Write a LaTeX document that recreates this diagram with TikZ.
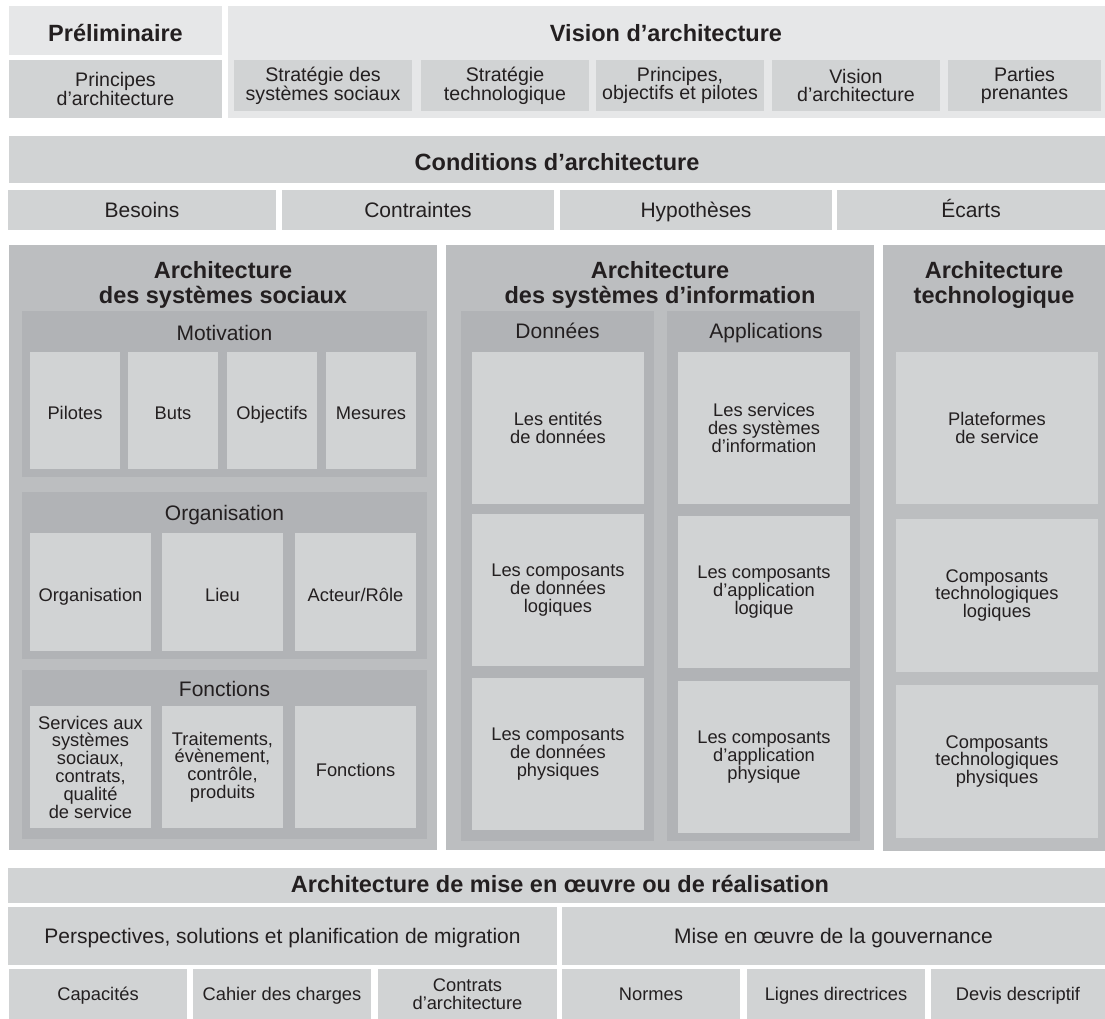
\documentclass[tikz,border=0pt]{standalone}
\usepackage{fontspec}
\setmainfont{Liberation Sans}
\definecolor{ink}{HTML}{231F20}
\definecolor{paleG}{HTML}{E6E7E8}
\definecolor{midG}{HTML}{D1D3D4}
\definecolor{colG}{HTML}{BCBEC0}
\definecolor{grpG}{HTML}{B1B3B6}
% a filled box from (x1,y1) to (x2,y2), pixel units, y pointing down
\newcommand\cellbox[7]{%
  \pgfmathsetmacro\cbw{#4-#2}%
  \pgfmathsetmacro\cbh{#5-#3}%
  \pgfmathsetmacro\cbx{(#2+#4)/2}%
  \pgfmathsetmacro\cby{(#3+#5)/2}%
  \node[cell,#6,minimum width=\cbw pt,minimum height=\cbh pt] (#1) at (\cbx,\cby) {#7};%
}
\begin{document}
\begin{tikzpicture}[x=1pt,y=-1pt,
  cell/.style={inner sep=0pt,outer sep=0pt,draw=none,text=ink,align=center},
  pale/.style={fill=paleG}, mid/.style={fill=midG}, col/.style={fill=colG}, grp/.style={fill=grpG},
  ttl/.style={inner sep=0pt,text=ink,align=center,font=\fontsize{23.5}{25}\selectfont\bfseries},
  lbl/.style={font=\fontsize{21}{22}\selectfont},
  sub/.style={font=\fontsize{19.6}{18.8}\selectfont},
  leaf/.style={font=\fontsize{18.3}{17.8}\selectfont},
  oneL/.style={text height=15pt,text depth=0pt},
  oneS/.style={text height=13.1pt,text depth=0pt},
  oneM/.style={text height=18.5pt,text depth=0pt},
  grplbl/.style={inner sep=0pt,text=ink,lbl,anchor=base}]
\useasboundingbox[fill=white] (0,0) rectangle (1105,1019);

% ---- Préliminaire ----
\cellbox{prelimHead}{9}{6}{222}{55}{pale}{}
\node[ttl,anchor=base] (prelimTitle) at (115.5,41.5) {Préliminaire};
\cellbox{prelimBody}{9}{60}{222}{118}{mid,sub}{Principes\\d’architecture}

% ---- Vision d'architecture ----
\cellbox{visionBg}{228}{6}{1105}{118}{pale}{}
\node[ttl,anchor=base] (visionTitle) at (666,41.5) {Vision d’architecture};
\cellbox{vStratSoc}{234}{60}{412}{111}{mid,sub}{Stratégie des\\systèmes sociaux}
\cellbox{vStratTech}{421}{60}{589}{111}{mid,sub}{Stratégie\\technologique}
\cellbox{vPrinc}{596}{60}{764}{111}{mid,sub}{Principes,\\objectifs et pilotes}
\cellbox{vVision}{772}{60}{940}{111}{mid,sub}{Vision\\d’architecture}
\cellbox{vParties}{948}{60}{1101}{111}{mid,sub}{Parties\\prenantes}

% ---- Conditions d'architecture ----
\cellbox{condHead}{9}{136}{1105}{183}{mid}{}
\node[ttl,anchor=base] (condTitle) at (557,171) {Conditions d’architecture};
\cellbox{cBesoins}{8}{190}{276}{230}{mid,lbl,oneL}{Besoins}
\cellbox{cContr}{282}{190}{554}{230}{mid,lbl,oneL}{Contraintes}
\cellbox{cHyp}{560}{190}{832}{230}{mid,lbl,oneL}{Hypothèses}
\cellbox{cEcarts}{837}{190}{1105}{230}{mid,lbl,oneL}{Écarts}

% ---- Architecture des systèmes sociaux ----
\cellbox{colSoc}{9}{245}{437}{850}{col}{}
\node[ttl] (socTitle) at (223,285) {Architecture\\des systèmes sociaux};

\cellbox{grpMotiv}{22}{311}{427}{477}{grp}{}
\node[grplbl] (motivLabel) at (224.5,340) {Motivation};
\cellbox{mPilotes}{30}{352}{120}{469}{mid,leaf,oneM}{Pilotes}
\cellbox{mButs}{128}{352}{218}{469}{mid,leaf,oneM}{Buts}
\cellbox{mObj}{227}{352}{317}{469}{mid,leaf,oneM}{Objectifs}
\cellbox{mMes}{326}{352}{416}{469}{mid,leaf,oneM}{Mesures}

\cellbox{grpOrg}{22}{492}{427}{659}{grp}{}
\node[grplbl] (orgLabel) at (224.5,520) {Organisation};
\cellbox{oOrg}{30}{533}{151}{651}{mid,leaf,oneM}{Organisation}
\cellbox{oLieu}{162}{533}{283}{651}{mid,leaf,oneM}{Lieu}
\cellbox{oActeur}{295}{533}{416}{651}{mid,leaf,oneM}{Acteur/Rôle}

\cellbox{grpFonc}{22}{670}{427}{839}{grp}{}
\node[grplbl] (foncLabel) at (224.5,696) {Fonctions};
\cellbox{fServ}{30}{706}{151}{828}{mid,leaf}{Services aux\\systèmes\\sociaux,\\contrats,\\qualité\\de service}
\cellbox{fTrait}{162}{706}{283}{828}{mid,leaf}{Traitements,\\évènement,\\contrôle,\\produits}
\cellbox{fFonc}{295}{706}{416}{828}{mid,leaf,oneM}{Fonctions}

% ---- Architecture des systèmes d'information ----
\cellbox{colSI}{446}{245}{874}{850}{col}{}
\node[ttl] (siTitle) at (660,285) {Architecture\\des systèmes d’information};

\cellbox{grpData}{461}{311}{654}{841}{grp}{}
\node[grplbl] (dataLabel) at (557.5,338) {Données};
\cellbox{dEnt}{472}{352}{644}{504}{mid,leaf}{Les entités\\de données}
\cellbox{dLog}{472}{514}{644}{666}{mid,leaf}{Les composants\\de données\\logiques}
\cellbox{dPhy}{472}{678}{644}{830}{mid,leaf}{Les composants\\de données\\physiques}

\cellbox{grpApp}{667}{311}{860}{841}{grp}{}
\node[grplbl] (appLabel) at (766,338) {Applications};
\cellbox{aServ}{678}{352}{850}{504}{mid,leaf}{Les services\\des systèmes\\d’information}
\cellbox{aLog}{678}{516}{850}{668}{mid,leaf}{Les composants\\d’application\\logique}
\cellbox{aPhy}{678}{681}{850}{833}{mid,leaf}{Les composants\\d’application\\physique}

% ---- Architecture technologique ----
\cellbox{colTech}{883}{245}{1105}{851}{col}{}
\node[ttl] (techTitle) at (994,285) {Architecture\\technologique};
\cellbox{tPlat}{896}{352}{1098}{504}{mid,leaf}{Plateformes\\de service}
\cellbox{tLog}{896}{519}{1098}{672}{mid,leaf}{Composants\\technologiques\\logiques}
\cellbox{tPhy}{896}{685}{1098}{838}{mid,leaf}{Composants\\technologiques\\physiques}

% ---- Architecture de mise en œuvre ou de réalisation ----
\cellbox{implHead}{8}{868}{1105}{903}{mid}{}
\node[ttl,anchor=base] (implTitle) at (560,892) {Architecture de mise en œuvre ou de réalisation};
\cellbox{iPersp}{8}{907}{557}{965}{mid,lbl,oneL}{Perspectives, solutions et planification de migration}
\cellbox{iGouv}{562}{907}{1105}{965}{mid,lbl,oneL}{Mise en œuvre de la gouvernance}
\cellbox{iCapa}{9}{969}{187}{1019}{mid,leaf,oneS}{Capacités}
\cellbox{iCahier}{193}{969}{371}{1019}{mid,leaf,oneS}{Cahier des charges}
\cellbox{iContrats}{378}{969}{557}{1019}{mid,leaf}{Contrats\\d’architecture}
\cellbox{iNormes}{562}{969}{740}{1019}{mid,leaf,oneS}{Normes}
\cellbox{iLignes}{747}{969}{925}{1019}{mid,leaf,oneS}{Lignes directrices}
\cellbox{iDevis}{931}{969}{1105}{1019}{mid,leaf,oneS}{Devis descriptif}
\end{tikzpicture}
\end{document}
